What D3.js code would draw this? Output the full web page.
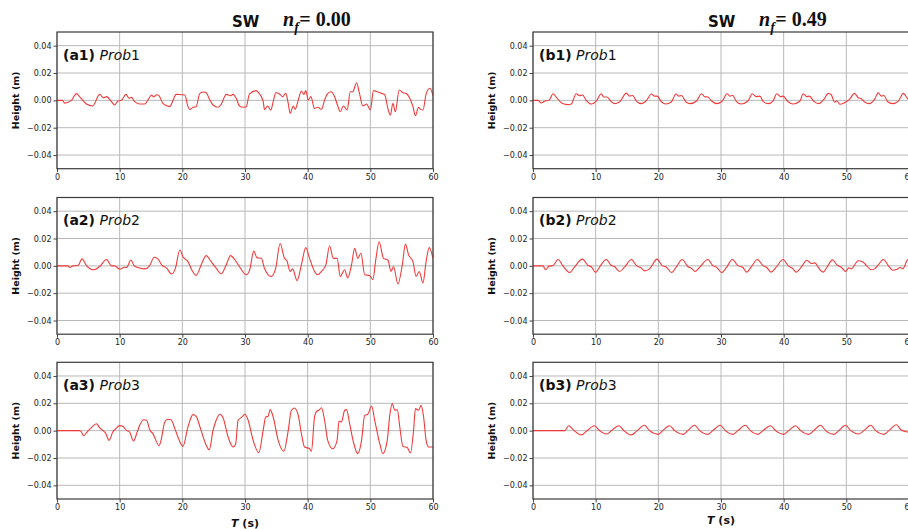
<!DOCTYPE html>
<html>
<head>
<meta charset="utf-8">
<script src="https://cdn.jsdelivr.net/npm/d3@7"></script>
<style>
  html, body { margin: 0; padding: 0; background: #fff; }
  svg { display: block; }
</style>
</head>
<body>
<script>
// ---------- DATA (time in s, height in m) ----------
const xTicks = [0, 10, 20, 30, 40, 50, 60];
const yTicks = [-0.04, -0.02, 0.00, 0.02, 0.04];
const columnTitles = ["0.00", "0.49"];
const probeNames = ["Prob1", "Prob2", "Prob3"];

const a1 = [[0,0],[0.9,0],[1.2,-0.002],[2.3,0],[3.1,0.0049],[3.6,0.0027],[4.7,-0.0027],[5.7,-0.0041],[6.8,0.0044],[7.4,0.002],[7.9,0.0027],[8.7,-0.001],[9.2,-0.0034],[9.7,-0.0005],[10.3,0],[11,0.0044],[11.5,0.0015],[11.9,0.0022],[12.4,-0.001],[13.2,-0.0027],[14,-0.0027],[14.5,0.0002],[15.1,0.0039],[15.4,0.0024],[15.9,0.0041],[16.3,0.0032],[16.9,-0.0022],[18,-0.0046],[18.5,-0.0002],[19,0.0044],[19.8,0.0041],[20.4,0.0039],[20.9,-0.0046],[21.2,-0.0066],[21.7,-0.0051],[22.2,-0.0046],[22.8,0.0051],[23.4,0.0061],[23.8,0.0056],[24.4,0.0002],[24.9,-0.0034],[25.7,-0.0051],[26.2,-0.0029],[27,0.0044],[27.7,0.0034],[28.1,0.0044],[28.6,0.0015],[29.1,-0.0041],[29.7,-0.0051],[30.2,-0.0046],[30.7,0.0046],[31.8,0.0071],[32.2,0.0054],[32.9,-0.0007],[33.1,-0.0066],[33.6,-0.0041],[34.1,-0.0071],[34.5,-0.001],[34.9,0.0056],[35.5,0.0046],[36,0.0027],[36.5,0.0051],[36.9,-0.0022],[37.2,-0.0095],[37.7,-0.0041],[38,-0.0066],[38.5,0.0002],[39,0.0068],[39.4,0.0044],[39.7,0.0071],[40.1,0.0002],[40.5,0.0027],[41.1,-0.0059],[41.6,-0.0051],[42.2,-0.0066],[42.7,0.0002],[43.1,0.0044],[43.7,0.0063],[44.3,0.0027],[44.8,-0.0041],[45.2,-0.0083],[45.7,-0.0041],[46.3,-0.0071],[46.8,0.0063],[47.2,0.0063],[47.8,0.0129],[48.3,0.0044],[48.8,-0.0041],[49.4,-0.0027],[50,-0.0071],[50.5,0.0071],[51.2,0.0061],[51.8,0.0051],[52.3,0.0041],[52.8,-0.0059],[53.2,-0.0107],[53.6,-0.0022],[54,-0.0083],[54.6,0.0076],[55.2,0.0056],[55.7,0.0051],[56.3,0.0015],[56.8,-0.0046],[57.2,-0.0112],[57.7,-0.0051],[58,-0.0066],[58.4,-0.0071],[58.9,0.0046],[59.5,0.0088],[60,0.0034]];

const a2 = [[0,0],[1.76,0],[2.0,-0.0012],[2.56,0],[3.35,0.0002],[4.0,0.0051],[4.7,0.0002],[5.9,-0.0029],[6.8,-0.0005],[7.9,0.0046],[8.7,0],[9.2,0],[10,-0.0024],[10.8,-0.001],[11.1,-0.0012],[11.8,0.0043],[12.3,0.0002],[12.9,-0.0012],[14,-0.0022],[14.8,0.0002],[15.5,0.0063],[16.1,0.0051],[16.7,0.0007],[17.5,-0.0017],[18.3,-0.006],[18.9,-0.0017],[19.6,0.0116],[20.1,0.0067],[20.9,0.0031],[21.5,-0.0029],[22.2,-0.007],[23,0.0007],[23.8,0.0075],[24.6,0.0031],[25.4,-0.0017],[26.2,-0.0058],[27,0.0007],[27.7,0.0075],[28.4,0.0043],[29.2,-0.0012],[30.2,-0.0065],[30.75,-0.0029],[31.4,0.0108],[31.9,0.006],[32.6,0.0055],[33.1,-0.0017],[34.2,-0.0077],[34.9,-0.0017],[35.6,0.0164],[36.3,0.0055],[36.7,0.0036],[37.2,-0.0041],[37.6,-0.0022],[38.3,-0.0108],[39,0.0007],[39.7,0.0133],[40.3,0.0055],[41.1,-0.0041],[41.6,-0.0065],[42.2,-0.0041],[42.9,0.0007],[43.5,0.0145],[44.1,0.0055],[44.7,0.0055],[45.2,-0.0077],[45.9,-0.0029],[46.4,-0.0089],[47,0.0007],[47.5,0.0128],[48,0.0055],[48.5,0.0092],[49.1,-0.0065],[49.9,-0.007],[50.4,-0.0101],[50.9,0.0055],[51.4,0.0176],[52.1,0.0055],[52.8,0.0043],[53.3,-0.0041],[53.7,-0.0005],[54.4,-0.0133],[55.1,0.0007],[55.6,0.0159],[56.1,0.008],[56.8,0.0031],[57.3,-0.0077],[57.8,-0.0041],[58.4,-0.0125],[58.9,0.0031],[59.4,0.0133],[60,0.0055]];

const a3 = [[0,0],[3.6,0],[3.9,-0.001],[4.25,-0.0037],[4.8,-0.001],[5.5,0.0022],[6.3,0.0051],[6.8,0.0022],[7.3,0.0002],[7.8,-0.0022],[8.3,-0.0071],[8.9,-0.001],[9.4,0.0015],[10.0,0.0037],[10.5,0.0032],[11.1,0.0002],[11.6,-0.001],[12.2,-0.0076],[12.8,-0.001],[13.2,0.0039],[13.8,0.008],[14.3,0.0076],[14.8,0.0007],[15.3,-0.0022],[16.3,-0.011],[16.6,-0.0071],[17.2,0.0063],[17.7,0.0083],[18.2,0.008],[18.8,0.0015],[19.3,-0.0046],[20.1,-0.0115],[20.9,0.0027],[21.7,0.0117],[22.2,0.0105],[22.9,0.0015],[23.6,-0.0083],[24.3,-0.0139],[24.9,0.0002],[25.4,0.0076],[26,0.012],[26.5,0.0095],[27.3,-0.0046],[28.1,-0.012],[28.5,-0.01],[28.9,0.0076],[29.4,0.0095],[30,0.012],[30.5,0.0076],[31.3,-0.0071],[32.2,-0.0161],[32.9,0.0002],[33.3,0.01],[33.7,0.0105],[34.0,0.0154],[34.5,0.01],[35.3,-0.0071],[36.2,-0.0151],[36.9,0.0002],[37.4,0.0149],[37.9,0.0166],[38.5,0.0112],[39.0,-0.0022],[39.5,-0.012],[40.3,-0.0132],[40.6,-0.0151],[41.1,0.01],[41.5,0.0144],[41.8,0.0149],[42.2,0.0168],[42.7,0.0076],[43.2,-0.0071],[44.0,-0.0132],[44.7,-0.0071],[45,0.0071],[45.4,0.0063],[45.9,0.0149],[46.2,0.0154],[46.7,0.0051],[47.3,-0.0083],[48.0,-0.0168],[48.6,-0.0071],[49.1,0.0112],[49.6,0.012],[50.2,0.018],[50.7,0.0076],[51.5,-0.0095],[52.0,-0.0168],[52.7,-0.0071],[53.1,0.0112],[53.5,0.0198],[53.9,0.0149],[54.3,0.0154],[54.7,0.0027],[55.2,-0.0115],[55.9,-0.0124],[56.4,-0.0163],[56.9,0.0002],[57.2,0.0161],[57.7,0.0149],[58.1,0.0185],[58.5,0.01],[58.9,-0.0071],[59.3,-0.012],[60,-0.012]];

const b1 = [[0,0],[0.8,0],[1.3,-0.0019],[1.9,-0.0005],[2.55,0],[3.2,0.0048],[3.7,0.0024],[4.5,-0.0017],[5.6,-0.0031],[6.1,-0.0027],[6.9,0.0048],[7.4,0.0034],[7.9,0.0039],[8.5,0],[9.3,-0.0027],[10.1,-0.0005],[10.9,0.0048],[11.3,0.0024],[11.8,0.0024],[12.5,-0.001],[13,-0.0024],[13.8,-0.0012],[14.9,0.0053],[15.4,0.0031],[15.9,0.0036],[16.5,-0.0005],[17.3,-0.0024],[18.1,-0.0002],[18.9,0.0046],[19.4,0.0031],[19.8,0.0031],[20.5,-0.001],[21.2,-0.0027],[22.1,-0.001],[22.8,0.0046],[23.3,0.0031],[23.7,0.0036],[24.4,-0.0012],[25.1,-0.0024],[26.1,-0.0005],[26.9,0.0048],[27.4,0.0027],[27.9,0.0024],[28.5,-0.0005],[29.3,-0.0024],[30.1,-0.001],[31,0.0048],[31.4,0.0031],[31.9,0.0036],[32.4,-0.0005],[33.2,-0.0027],[34.3,-0.0005],[35,0.0048],[35.6,0.0027],[36.2,0.0031],[36.7,-0.0007],[37.5,-0.0024],[38.3,-0.0005],[38.9,0.0048],[39.5,0.0027],[39.9,0.0031],[40.7,-0.001],[41.5,-0.0027],[42.6,-0.0005],[43.1,0.0048],[43.7,0.0027],[44.1,0.0031],[44.8,-0.0007],[45.6,-0.0024],[46.5,0.0012],[47.1,0.0051],[47.6,0.0041],[48.1,-0.0012],[48.5,-0.0005],[49,-0.0029],[49.7,-0.0017],[50.5,0.0007],[51.3,0.0051],[51.9,0.0019],[52.4,0.0012],[52.9,-0.0012],[53.7,-0.0024],[54.5,0.0007],[55.1,0.0055],[55.6,0.0031],[56,0.0036],[56.6,-0.001],[57.4,-0.0024],[58.3,-0.0005],[59.1,0.0051],[59.8,0.0012],[60,0.0005]];

const b2 = [[0,0],[1.6,0],[2.0,-0.0029],[2.55,-0.0002],[3.2,0.0002],[4.0,0.0046],[4.8,-0.0002],[5.9,-0.0049],[6.6,-0.001],[7.9,0.0049],[8.8,0.0002],[9.3,-0.0007],[10,-0.0049],[10.6,-0.001],[11.7,0.0046],[12.5,0.0002],[13,-0.0005],[13.8,-0.0041],[14.6,-0.001],[15.7,0.0046],[16.5,0.0002],[17.3,-0.0017],[17.8,-0.0037],[18.6,-0.0022],[19.8,0.0049],[20.6,0.0002],[21.3,-0.001],[22.1,-0.0049],[22.9,-0.0005],[23.8,0.0046],[24.7,-0.0005],[25.4,-0.0022],[25.9,-0.0041],[26.6,-0.001],[27.9,0.0046],[28.7,0.0002],[29.3,-0.001],[30.1,-0.0049],[30.9,-0.001],[31.8,0.0046],[32.7,0.0002],[33.5,-0.0012],[34.1,-0.0046],[34.8,-0.001],[35.8,0.0046],[36.7,0.0002],[37.3,-0.0012],[38,-0.0046],[38.8,-0.001],[39.9,0.0046],[40.7,0.0002],[41.5,-0.0022],[42,-0.0046],[42.8,-0.001],[43.7,0.0041],[44.4,0.0017],[45,0.0022],[45.5,-0.001],[46.3,-0.0046],[46.9,-0.001],[47.8,0.0044],[48.5,0.0007],[49.2,-0.001],[49.9,-0.0041],[50.4,-0.0015],[50.8,-0.0022],[51.9,0.0037],[52.7,0.0027],[53.2,0.0002],[54,-0.0029],[54.5,-0.0022],[55.1,0.0007],[55.9,0.0046],[56.7,0.0002],[57.4,-0.0032],[58,-0.0027],[58.6,-0.0012],[59,-0.0022],[59.8,0.0046],[60,0.0048]];

const b3 = [[0,0],[5.05,0],[5.7,0.0036],[6.4,0.0007],[7.7,-0.0031],[8.5,-0.0005],[9.8,0.0036],[10.6,0],[11.8,-0.0024],[12.5,0],[13.7,0.0036],[14.5,0],[15.7,-0.0031],[16.5,-0.0005],[17.8,0.0039],[18.6,0],[20,-0.0027],[20.7,0],[21.8,0.0036],[22.6,0],[24,-0.0027],[24.7,0],[25.8,0.0039],[26.6,0],[27.9,-0.0027],[28.7,0],[29.9,0.0039],[30.7,0],[31.9,-0.0027],[32.7,0],[33.9,0.0039],[34.7,0],[35.9,-0.0027],[36.7,0],[37.9,0.0036],[38.7,0],[40,-0.0027],[40.8,0],[41.9,0.0036],[42.7,0],[44,-0.0027],[44.8,0],[45.9,0.0039],[46.7,0],[48,-0.0027],[48.8,0],[49.9,0.0039],[50.7,0],[52,-0.0024],[52.8,0],[53.9,0.0039],[54.7,0],[56,-0.0027],[56.8,0],[58,0.0043],[58.7,0.0007],[59.8,-0.001],[60,-0.0012]];

// ---------- LAYOUT ----------
const W = 908, H = 529;
const colX = [57, 533];
const rowY = [32, 197.5, 362.3];
const PW = 376, PH = 136.7;
const sans = "'DejaVu Sans', sans-serif";
const serif = "'Liberation Serif', 'DejaVu Serif', serif";

const panels = [
  { data: a1, col: 0, row: 0, tag: "(a1)" },
  { data: a2, col: 0, row: 1, tag: "(a2)" },
  { data: a3, col: 0, row: 2, tag: "(a3)" },
  { data: b1, col: 1, row: 0, tag: "(b1)" },
  { data: b2, col: 1, row: 1, tag: "(b2)" },
  { data: b3, col: 1, row: 2, tag: "(b3)" }
];

const svg = d3.select("body").append("svg")
  .attr("width", W).attr("height", H)
  .attr("viewBox", `0 0 ${W} ${H}`);

const x = d3.scaleLinear().domain([0, 60]).range([0, PW]);
const y = d3.scaleLinear().domain([-0.05, 0.05]).range([PH, 0]);

const line = d3.line()
  .x(d => x(d[0]))
  .y(d => y(d[1]))
  .curve(d3.curveMonotoneX);

panels.forEach((p, i) => {
  const g = svg.append("g").attr("transform", `translate(${colX[p.col]},${rowY[p.row]})`);

  // grid
  g.append("g").selectAll("line").data(xTicks).join("line")
    .attr("x1", d => x(d)).attr("x2", d => x(d))
    .attr("y1", 0).attr("y2", PH)
    .attr("stroke", "#b8b8b8").attr("stroke-width", 1);
  g.append("g").selectAll("line").data(yTicks).join("line")
    .attr("x1", 0).attr("x2", PW)
    .attr("y1", d => y(d)).attr("y2", d => y(d))
    .attr("stroke", "#b8b8b8").attr("stroke-width", 1);

  // axes
  const xa = g.append("g").attr("transform", `translate(0,${PH})`)
    .call(d3.axisBottom(x).tickValues(xTicks).tickSize(3.5).tickPadding(2).tickFormat(d3.format("d")));
  const ya = g.append("g")
    .call(d3.axisLeft(y).tickValues(yTicks).tickSize(3.5).tickPadding(2).tickFormat(d3.format(".2f")));
  [xa, ya].forEach(a => {
    a.select(".domain").remove();
    a.selectAll(".tick line").attr("stroke", "#444");
    a.selectAll(".tick text").attr("fill", "#222")
      .style("font-family", sans).style("font-size", "8px");
  });

  // clip + data line
  const cid = "clip" + i;
  g.append("clipPath").attr("id", cid).append("rect")
    .attr("x", 0).attr("y", 0).attr("width", PW).attr("height", PH);
  g.append("path").datum(p.data)
    .attr("clip-path", `url(#${cid})`)
    .attr("fill", "none")
    .attr("stroke", "#f03a3a")
    .attr("stroke-width", 1.1)
    .attr("d", line);

  // frame
  g.append("rect").attr("x", 0).attr("y", 0).attr("width", PW).attr("height", PH)
    .attr("fill", "none").attr("stroke", "#3a3a3a").attr("stroke-width", 1.2);

  // panel label
  const lab = g.append("text").attr("x", 6).attr("y", 27.5)
    .style("font-family", sans).style("font-size", "14px").attr("fill", "#111");
  lab.append("tspan").attr("font-weight", "bold").text(p.tag);
  lab.append("tspan").text("\u00a0");
  lab.append("tspan").attr("font-style", "italic").text("Prob");
  lab.append("tspan").text(probeNames[p.row].slice(4));

  // y label
  g.append("text")
    .attr("transform", `translate(${p.col === 0 ? -38.5 : -38},${PH / 2}) rotate(-90)`)
    .attr("text-anchor", "middle")
    .style("font-family", sans).style("font-size", "9.5px").style("font-weight", "bold")
    .attr("fill", "#111")
    .text("Height (m)");
});

// column titles
[0, 1].forEach(c => {
  const sx = c === 0 ? 232 : 708;
  svg.append("text").attr("x", sx).attr("y", 27)
    .style("font-family", sans).style("font-size", "15px").style("font-weight", "bold")
    .attr("fill", "#111").text("SW");
  const t = svg.append("text").attr("x", sx + 51).attr("y", 26)
    .style("font-family", serif).style("font-weight", "bold").attr("fill", "#111");
  t.append("tspan").style("font-style", "italic").style("font-size", "20px").text("n");
  t.append("tspan").style("font-style", "italic").style("font-size", "14px").attr("dy", 6).text("f");
  t.append("tspan").style("font-size", "20px").attr("dy", -6).attr("dx", 0.5).text("= " + columnTitles[c]);
});

// x-axis labels
[0, 1].forEach(c => {
  const t = svg.append("text")
    .attr("x", colX[c] + PW / 2).attr("y", c === 0 ? 527 : 524)
    .attr("text-anchor", "middle")
    .style("font-family", sans).style("font-size", "11px").style("font-weight", "bold")
    .attr("fill", "#111");
  t.append("tspan").style("font-style", "italic").text("T");
  t.append("tspan").text(" (s)");
});
</script>
</body>
</html>
